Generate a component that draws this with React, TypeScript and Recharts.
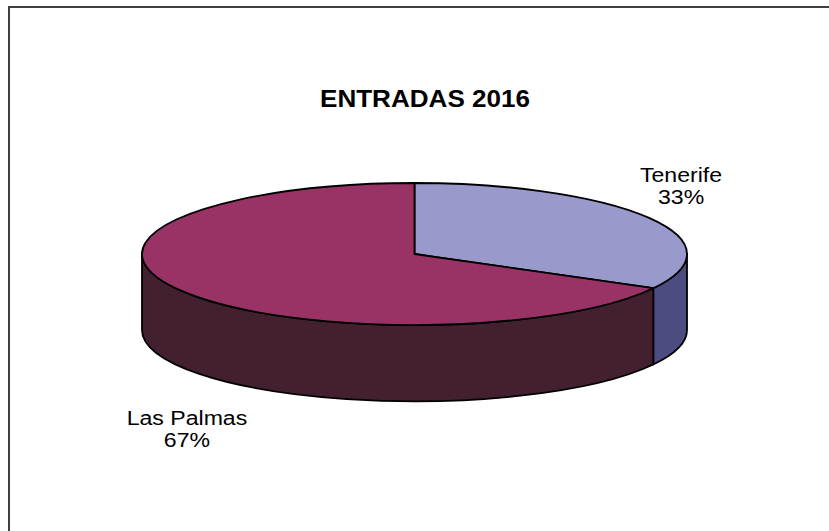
import { PieChart, Pie, Cell } from 'recharts'

// values
const regions = ['Tenerife', 'Las Palmas']
const entradas = [33, 67]
const topColors = ['#9999CC', '#993366']
const sideColors = ['#4C4C80', '#42202F']

const chartData = regions.map((name, i) => ({ name, value: entradas[i] }))

const W = 829
const H = 531
const CX = 414.5
const CY = 254
const RADIUS = 272.5
const TILT = 0.2606 // vertical squash of the disc
const DEPTH = 0.28 // wall height relative to radius

function pt(cx: number, cy: number, rx: number, ry: number, a: number): [number, number] {
  const r = (a * Math.PI) / 180
  return [cx + rx * Math.cos(r), cy - ry * Math.sin(r)]
}

/**
 * Parts of [lo, hi] that face the viewer (lower half of the ellipse)
 */
function frontRanges(a1: number, a2: number): [number, number][] {
  const lo = Math.min(a1, a2)
  const hi = Math.max(a1, a2)
  const out: [number, number][] = []
  for (let k = -2; k <= 1; k++) {
    const l = Math.max(lo, -180 + 360 * k)
    const h = Math.min(hi, 360 * k)
    if (h > l) out.push([l, h])
  }
  return out
}

function Slice3D(props: any) {
  const { cx, cy, outerRadius, startAngle, endAngle, fill } = props
  const name = props.payload?.name ?? props.name
  const side = sideColors[regions.indexOf(name)] ?? '#333'
  const rx = outerRadius
  const ry = outerRadius * TILT
  const d = outerRadius * DEPTH

  const walls = frontRanges(startAngle, endAngle).map(([lo, hi], i) => {
    const [x1, y1] = pt(cx, cy, rx, ry, hi)
    const [x2, y2] = pt(cx, cy, rx, ry, lo)
    const path = `M${x1},${y1} A${rx},${ry} 0 0 1 ${x2},${y2} L${x2},${y2 + d} A${rx},${ry} 0 0 0 ${x1},${y1 + d} Z`
    return <path key={i} d={path} fill={side} stroke="#000" strokeWidth={1.8} strokeLinejoin="round" />
  })

  const [sx, sy] = pt(cx, cy, rx, ry, startAngle)
  const [ex, ey] = pt(cx, cy, rx, ry, endAngle)
  const large = Math.abs(endAngle - startAngle) > 180 ? 1 : 0
  const sweep = endAngle < startAngle ? 1 : 0
  const top = `M${cx},${cy} L${sx},${sy} A${rx},${ry} 0 ${large} ${sweep} ${ex},${ey} Z`

  return (
    <g>
      {walls}
      <path d={top} fill={fill} stroke="#000" strokeWidth={1.8} strokeLinejoin="round" />
    </g>
  )
}

function renderLabel(props: any) {
  const { cx, cy, midAngle, outerRadius, name, percent } = props
  const [px, py] = pt(cx, cy, outerRadius, outerRadius * TILT, midAngle)
  const back = Math.sin((midAngle * Math.PI) / 180) > 0
  // Excel puts the back label above the rim, the front one below the wall
  const x = back ? px + 32 : px + 7
  const y = back ? py - 36 : py + outerRadius * DEPTH + 59
  const font = { fontSize: 21, fontFamily: "'Liberation Sans', Arial, sans-serif", fill: '#000' }
  return (
    <g transform={`translate(${x},${y}) scale(1.1,1)`}>
      <text x={0} y={0} textAnchor="middle" {...font}>
        {name}
      </text>
      <text x={0} y={22} textAnchor="middle" {...font}>
        {`${Math.round(percent * 100)}%`}
      </text>
    </g>
  )
}

export default function App() {
  return (
    <div style={{ position: 'absolute', left: 0, top: 0, width: W, height: H, background: '#fff' }}>
      <PieChart width={W} height={H} margin={{ top: 0, right: 0, bottom: 0, left: 0 }}>
        <rect x={9} y={7} width={900} height={600} fill="none" stroke="#404040" strokeWidth={2} />
        <text
          x={425}
          y={106.5}
          textAnchor="middle"
          fontSize={23}
          fontWeight="bold"
          fontFamily="'Liberation Sans', Arial, sans-serif"
          textLength={210}
          lengthAdjust="spacingAndGlyphs"
          fill="#000"
        >
          ENTRADAS 2016
        </text>
        <Pie
          data={chartData}
          dataKey="value"
          nameKey="name"
          cx={CX}
          cy={CY}
          outerRadius={RADIUS}
          startAngle={90}
          endAngle={-270}
          stroke="#000"
          label={renderLabel}
          labelLine={false}
          shape={Slice3D}
          inactiveShape={Slice3D}
          activeShape={Slice3D}
          isAnimationActive={false}
        >
          {chartData.map((d, i) => (
            <Cell key={d.name} fill={topColors[i]} />
          ))}
        </Pie>
      </PieChart>
    </div>
  )
}
